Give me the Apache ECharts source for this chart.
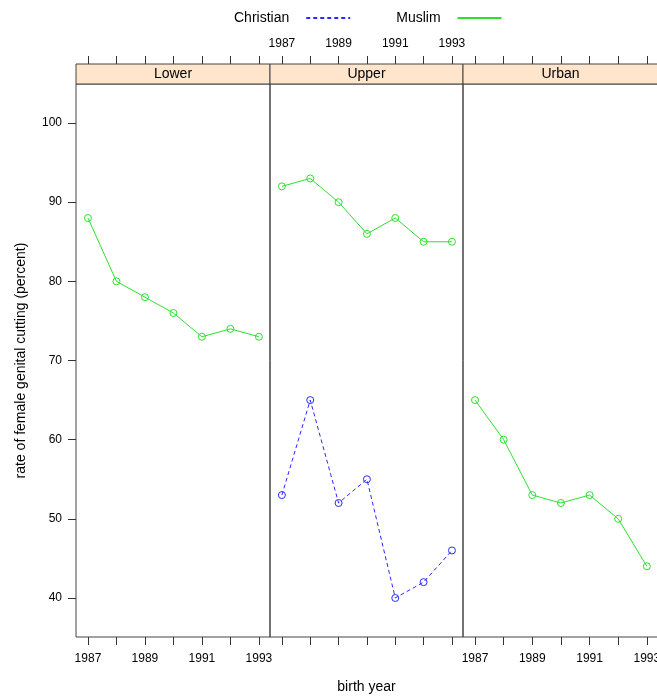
<!DOCTYPE html>
<html>
<head>
<meta charset="utf-8">
<script src="https://cdn.jsdelivr.net/npm/echarts@6/dist/echarts.min.js"></script>
<style>
  html, body { margin: 0; padding: 0; background: #fff; }
  #main { width: 657px; height: 698px; }
</style>
</head>
<body>
<div id="main"></div>
<script>
// birth years and rates
var years = [1987, 1988, 1989, 1990, 1991, 1992, 1993];
var panels = ["Lower", "Upper", "Urban"];
var lowerMuslim = [88, 80, 78, 76, 73, 74, 73];
var upperMuslim = [92, 93, 90, 86, 88, 85, 85];
var upperChristian = [53, 65, 52, 55, 40, 42, 46];
var urbanMuslim = [65, 60, 53, 52, 53, 50, 44];
var yTicks = [40, 50, 60, 70, 80, 90, 100];
var xLabels = [1987, 1989, 1991, 1993];

var GREEN = "#2ee02e";
var BLUE = "#2a2aff";
var FONT = "Liberation Sans, Arial, sans-serif";

function pairs(vals) {
  return years.map(function (y, i) { return [y, vals[i]]; });
}

var lefts = [76, 270, 463];
var widths = [194, 193, 195];

var grids = lefts.map(function (l, i) {
  return {
    left: l, top: 84, width: widths[i], height: 553,
    containLabel: false, outerBoundsMode: "none",
    show: true, borderColor: "#444", borderWidth: 1, backgroundColor: "transparent"
  };
});

var xMin = 1986.58, xMax = 1993.39;
var plain = function (v) { return String(v); };

var xAxes = [];
panels.forEach(function (p, i) {
  // bottom axis
  xAxes.push({
    type: "value", gridIndex: i, position: "bottom", min: xMin, max: xMax,
    axisLine: { show: false },
    axisTick: { show: true, length: 8, inside: false, customValues: years, lineStyle: { color: "#333" } },
    axisLabel: { show: i !== 1, customValues: xLabels, formatter: plain, margin: 16, color: "#000", fontSize: 12, fontFamily: FONT },
    splitLine: { show: false },
    name: i === 1 ? "birth year" : "",
    nameLocation: "middle", nameGap: 43,
    nameTextStyle: { color: "#000", fontSize: 14, fontFamily: FONT }
  });
  // top axis, above the strip
  xAxes.push({
    type: "value", gridIndex: i, position: "top", offset: 20, min: xMin, max: xMax,
    axisLine: { show: false },
    axisTick: { show: true, length: 8, inside: false, customValues: years, lineStyle: { color: "#333" } },
    axisLabel: { show: i === 1, customValues: xLabels, formatter: plain, margin: 14, color: "#000", fontSize: 12, fontFamily: FONT },
    splitLine: { show: false }
  });
});

var yAxes = panels.map(function (p, i) {
  return {
    type: "value", gridIndex: i, min: 35.07, max: 104.93,
    axisLine: { show: false },
    axisTick: { show: i === 0, length: 8, customValues: yTicks, lineStyle: { color: "#333" } },
    axisLabel: { show: i === 0, customValues: yTicks, margin: 14, color: "#000", fontSize: 12, fontFamily: FONT },
    splitLine: { show: false },
    name: i === 0 ? "rate of female genital cutting (percent)" : "",
    nameLocation: "middle", nameGap: 48,
    nameTextStyle: { color: "#000", fontSize: 14, fontFamily: FONT }
  };
});

function line(name, vals, grid, color, dashed) {
  return {
    name: name, type: "line", data: pairs(vals),
    xAxisIndex: grid * 2, yAxisIndex: grid,
    symbol: "circle", symbolSize: 7,
    itemStyle: { color: "rgba(0,0,0,0)", borderColor: color, borderWidth: 1 },
    lineStyle: { color: color, width: 1, type: dashed ? [4, 3] : "solid" },
    emphasis: { disabled: true },
    animation: false
  };
}

var series = [
  line("Muslim", lowerMuslim, 0, GREEN, false),
  line("Christian", upperChristian, 1, BLUE, true),
  line("Muslim", upperMuslim, 1, GREEN, false),
  line("Muslim", urbanMuslim, 2, GREEN, false)
];

var graphics = [];
panels.forEach(function (p, i) {
  graphics.push({
    type: "rect", shape: { x: lefts[i], y: 64, width: widths[i], height: 20 },
    style: { fill: "#ffe5cc", stroke: "#444", lineWidth: 1 }
  });
  graphics.push({
    type: "text", x: lefts[i] + widths[i] / 2, y: 74,
    style: { text: p, fill: "#000", font: "14px " + FONT, align: "center", verticalAlign: "middle" }
  });
});

var chart = echarts.init(document.getElementById("main"), null, { renderer: "canvas" });
chart.setOption({
  animation: false,
  backgroundColor: "#fff",
  legend: {
    top: 6, left: 229,
    data: ["Christian", "Muslim"],
    align: "right",
    itemWidth: 44, itemHeight: 10, itemGap: 45,
    itemStyle: { opacity: 0 },
    textStyle: { color: "#000", fontSize: 14, fontFamily: FONT, padding: [0, 12, 0, 0] },
    selectedMode: false
  },
  grid: grids,
  xAxis: xAxes,
  yAxis: yAxes,
  series: series,
  graphic: graphics
});
</script>
</body>
</html>
